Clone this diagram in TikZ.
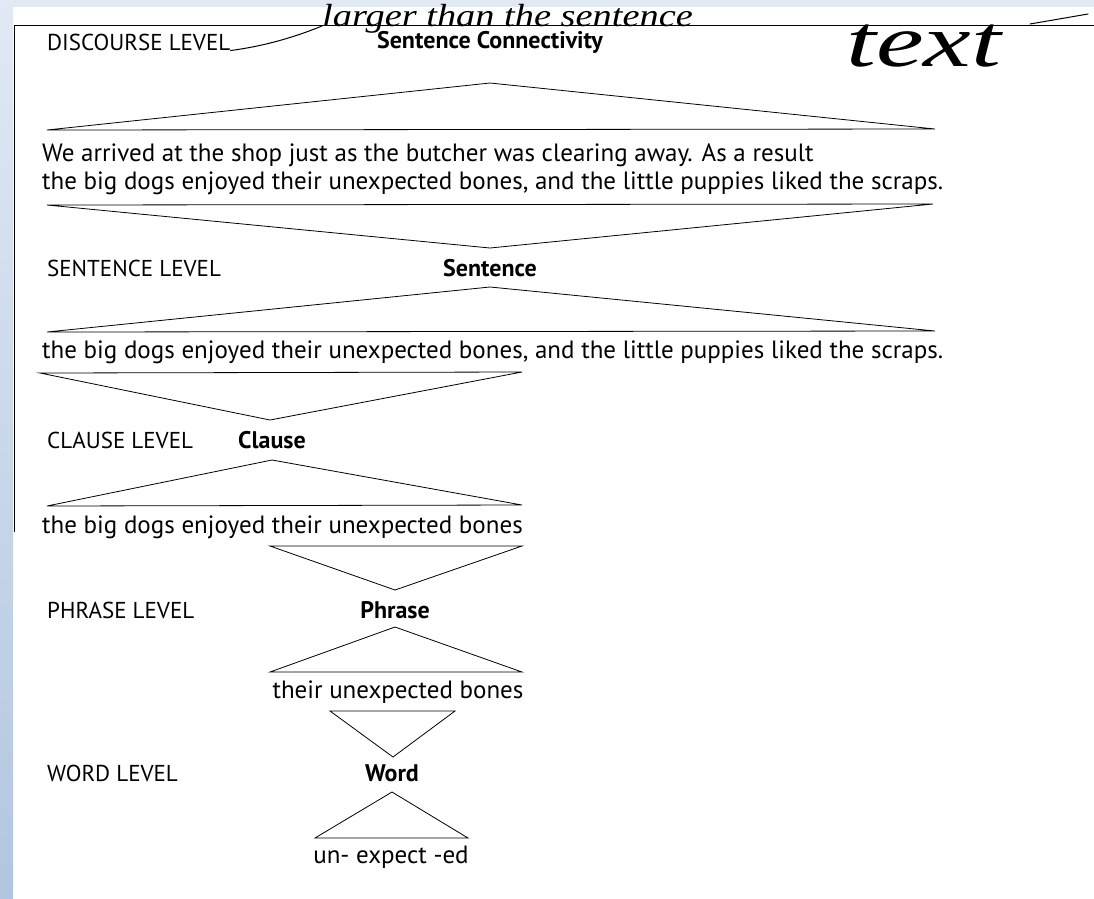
\documentclass[tikz,border=0pt]{standalone}
\usepackage{fontspec}
\setmainfont{PT Sans}
\newfontfamily\handfont{Liberation Serif}
\definecolor{bandtop}{HTML}{E1E9F4}
\definecolor{bandbot}{HTML}{B2C6E1}
\begin{document}
\begin{tikzpicture}[x=1pt,y=-1pt,
  lvl/.style={anchor=west, inner sep=0pt, font=\fontsize{23}{26}\selectfont},
  head/.style={inner sep=0pt, font=\fontsize{24}{27}\selectfont\bfseries},
  body/.style={inner sep=0pt, font=\fontsize{25}{28}\selectfont, align=left},
  tri/.style={draw=black, line width=0.8pt, line join=miter},
  hand/.style={inner sep=0pt},
  handline/.style={draw=black, line width=1pt, line cap=round}]
\useasboundingbox (0,0) rectangle (1094,898);
\fill[white] (0,0) rectangle (1094,898);
% background bands
\fill[bandtop] (0,0) rectangle (1094,7);
\shade[top color=bandtop, bottom color=bandbot] (0,0) rectangle (13,898);
% frame
\coordinate (fTL) at (14,25);
\coordinate (fTR) at (1094,25);
\coordinate (fBL) at (14,532);
\draw[line width=1pt] (fBL) -- (fTL) -- (fTR);

% level labels
\node[lvl] (dl) at (47,42) {DISCOURSE LEVEL};
\node[lvl] (sl) at (47,268) {SENTENCE LEVEL};
\node[lvl] (cl) at (47,440) {CLAUSE LEVEL};
\node[lvl] (pl) at (47,610) {PHRASE LEVEL};
\node[lvl] (wl) at (47,773) {WORD LEVEL};

% heads
\node[head] (sc) at (490,42) {Sentence Connectivity};
\node[head] (se) at (490,268) {Sentence};
\node[head] (cla) at (272,440) {Clause};
\node[head] (ph) at (395,610) {Phrase};
\node[head] (wo) at (392,773) {Word};

% texts
\node[body, anchor=west] (t1) at (42,169) {We arrived at the shop just as the butcher was clearing away. As a result\\the big dogs enjoyed their unexpected bones, and the little puppies liked the scraps.};
\node[body, anchor=west] (t2) at (42,352) {the big dogs enjoyed their unexpected bones, and the little puppies liked the scraps.};
\node[body, anchor=west] (t3) at (42,527) {the big dogs enjoyed their unexpected bones};
\node[body] (t4) at (398,692) {their unexpected bones};
\node[body] (t5) at (391,857) {un- expect -ed};

% triangle 1 (Sentence Connectivity)
\coordinate (a1) at (490,83);
\coordinate (l1) at (47,130);
\coordinate (r1) at (935,129);
\draw[tri] (l1) -- (a1) -- (r1) -- cycle;
% inverted triangle to Sentence
\coordinate (l2) at (47,205);
\coordinate (r2) at (933,204);
\coordinate (a2) at (490,248);
\draw[tri] (a2) -- (l2) -- (r2) -- cycle;
% triangle Sentence
\coordinate (a3) at (490,287);
\coordinate (l3) at (47,332);
\coordinate (r3) at (935,331);
\draw[tri] (l3) -- (a3) -- (r3) -- cycle;
% inverted to Clause
\coordinate (l4) at (40,373);
\coordinate (r4) at (522,372);
\coordinate (a4) at (270,420);
\draw[tri] (a4) -- (l4) -- (r4) -- cycle;
% triangle Clause
\coordinate (a5) at (272,460);
\coordinate (l5) at (47,506);
\coordinate (r5) at (522,505);
\draw[tri] (l5) -- (a5) -- (r5) -- cycle;
% inverted to Phrase
\coordinate (l6) at (270,546);
\coordinate (r6) at (522,546);
\coordinate (a6) at (395,590);
\draw[tri] (a6) -- (l6) -- (r6) -- cycle;
% triangle Phrase
\coordinate (a7) at (395,627);
\coordinate (l7) at (270,672);
\coordinate (r7) at (522,672);
\draw[tri] (l7) -- (a7) -- (r7) -- cycle;
% inverted to Word
\coordinate (l8) at (330,711);
\coordinate (r8) at (455,711);
\coordinate (a8) at (393,757);
\draw[tri] (a8) -- (l8) -- (r8) -- cycle;
% triangle Word
\coordinate (a9) at (392,792);
\coordinate (l9) at (315,838);
\coordinate (r9) at (468,838);
\draw[tri] (l9) -- (a9) -- (r9) -- cycle;

% handwritten annotation
\node[hand, anchor=base west] (h1) at (322,26) {\scalebox{1.2}[1]{\handfont\itshape\fontsize{32}{32}\selectfont larger than the sentence}};
\node[hand, anchor=base west] (h2) at (846,66) {\scalebox{1.45}[1]{\handfont\itshape\fontsize{74}{74}\selectfont text}};
\draw[handline] (dl.south east) .. controls (265,46) and (295,37) .. (h1.base west);
\coordinate (hx1) at (1030,24);
\coordinate (hx2) at (1088,14);
\draw[handline] (hx1) -- (hx2);
\end{tikzpicture}
\end{document}
